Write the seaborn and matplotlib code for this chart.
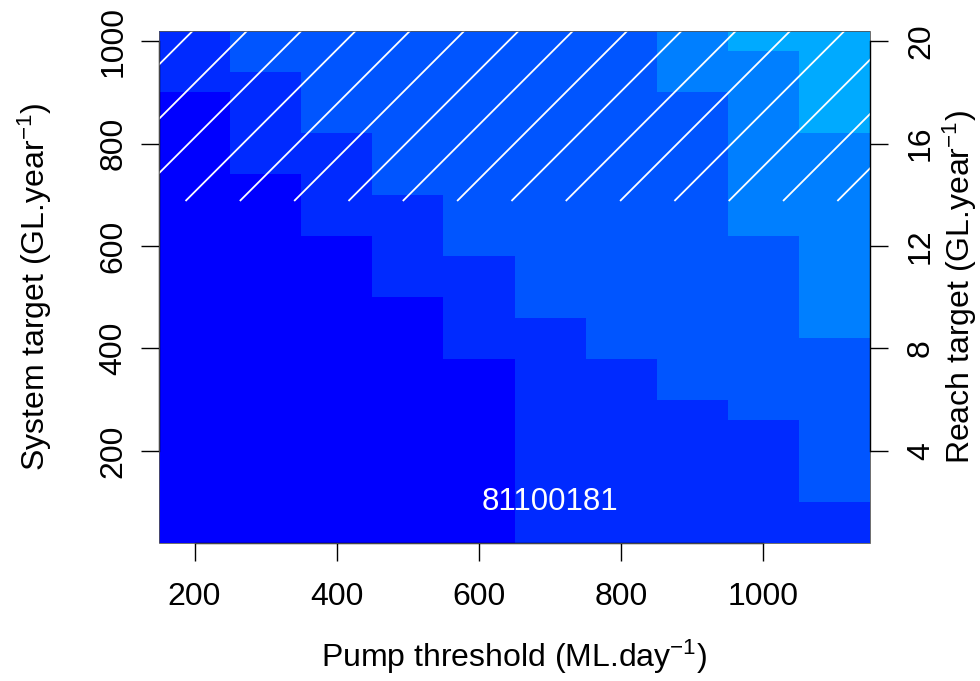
import numpy as np
import pandas as pd
import matplotlib
matplotlib.use("Agg")
import matplotlib.pyplot as plt
from matplotlib.colors import ListedColormap
from matplotlib.patches import Rectangle
import seaborn as sns

# Grid of scenarios
pump_threshold = [200, 300, 400, 500, 600, 700, 800, 900, 1000, 1100]          # ML/day
system_target = [40, 80, 120, 160, 200, 240, 280, 320, 360, 400, 440, 480, 520,
                 560, 600, 640, 680, 720, 760, 800, 840, 880, 920, 960, 1000]   # GL/year

# System target above which each pump-threshold column moves into the next band
# (None: the band is never reached in that column)
band1_from = [900, 740, 620, 500, 380, 20, 20, 20, 20, 20]
band2_from = [None, 940, 820, 700, 580, 460, 380, 300, 260, 100]
band3_from = [None, None, None, None, None, None, None, 900, 620, 420]
band4_from = [None, None, None, None, None, None, None, None, 980, 820]
band_colors = ["#0000FF", "#002AFF", "#0055FF", "#007FFF", "#00AAFF"]

x_ticks = [200, 400, 600, 800, 1000]
y_ticks = [200, 400, 600, 800, 1000]
reach_ticks = [4, 8, 12, 16, 20]

hatch_from = 688            # system targets above this are hatched
site_label = "81100181"
site_label_at = (700, 100)

# ---- build the band matrix (rows: system target, cols: pump threshold)
edges = [band1_from, band2_from, band3_from, band4_from]
band = np.zeros((len(system_target), len(pump_threshold)), dtype=int)
for i, st in enumerate(system_target):
    for j in range(len(pump_threshold)):
        band[i, j] = sum(1 for e in edges if e[j] is not None and st > e[j])
df = pd.DataFrame(band, index=system_target, columns=pump_threshold)

dx = pump_threshold[1] - pump_threshold[0]
dy = system_target[1] - system_target[0]
x_lo = pump_threshold[0] - dx / 2
y_lo = system_target[0] - dy / 2


def xpos(v):
    return (v - x_lo) / dx


def ypos(v):
    return (v - y_lo) / dy


# ---- style
sns.set_theme(style="white")
plt.rcParams["font.family"] = ["Liberation Sans", "DejaVu Sans"]
plt.rcParams["mathtext.fontset"] = "custom"
plt.rcParams["mathtext.rm"] = "Liberation Sans"
plt.rcParams["mathtext.it"] = "Liberation Sans:italic"
for key in ["text.color", "axes.labelcolor", "xtick.color", "ytick.color"]:
    plt.rcParams[key] = "black"
FS = 23

fig = plt.figure(figsize=(9.8, 6.81), dpi=100)
W, H = 980, 681
L, R, T, B = 159, 870, 31, 543
ax = fig.add_axes([L / W, (H - B) / H, (R - L) / W, (B - T) / H])

sns.heatmap(df, ax=ax, cmap=ListedColormap(band_colors), vmin=-0.5, vmax=4.5,
            cbar=False, xticklabels=False, yticklabels=False)
ax.invert_yaxis()
ax.set_xlim(0, len(pump_threshold))
ax.set_ylim(0, len(system_target))

# thin outline of the image
ax.add_patch(Rectangle((0, 0), 1, 1, transform=ax.transAxes, fill=False,
                       edgecolor="#555555", lw=0.6, zorder=5, clip_on=False))

# hatching over the upper system targets (45 degree lines on screen)
p0 = ax.transData.transform((0, 0))
p1 = ax.transData.transform((1, 1))
sx, sy = p1[0] - p0[0], p1[1] - p0[1]
hatch_anchor = 187.3      # pump threshold where one hatch line meets the lower edge
hatch_step = 76.4         # spacing between hatch lines, in pump-threshold units
yb = ypos(hatch_from)
yt = len(system_target) + 1
for k in range(-8, 16):
    xb = xpos(hatch_anchor + k * hatch_step)
    xt = xb + (yt - yb) * sy / sx
    ax.plot([xb, xt], [yb, yt], color="white", lw=1.3, solid_capstyle="butt", zorder=3)

ax.text(xpos(site_label_at[0]), ypos(site_label_at[1]), site_label, color="white",
        ha="center", va="center", fontsize=FS - 0.5, zorder=4)

# ---- axes in R style
for s in ["top", "right", "left", "bottom"]:
    ax.spines[s].set_visible(False)
ax.spines["left"].set_visible(True)
ax.spines["bottom"].set_visible(True)
ax.spines["left"].set_bounds(ypos(y_ticks[0]), ypos(y_ticks[-1]))
ax.spines["bottom"].set_bounds(xpos(x_ticks[0]), xpos(x_ticks[-1]))
for s in ["left", "bottom"]:
    ax.spines[s].set_color("black")
    ax.spines[s].set_linewidth(1.0)

ax.set_xticks([xpos(v) for v in x_ticks])
ax.set_xticklabels([str(v) for v in x_ticks], fontsize=FS)
ax.set_yticks([ypos(v) for v in y_ticks])
ax.set_yticklabels([str(v) for v in y_ticks], fontsize=FS, rotation=90, va="center")
ax.tick_params(axis="x", direction="out", length=13, width=1.0, color="black",
               pad=15, bottom=True, labelbottom=True)
ax.tick_params(axis="y", direction="out", length=13, width=1.0, color="black",
               pad=9, left=True, labelleft=True)

ax.set_xlabel(r"Pump threshold (ML.day$^{-1}$)", fontsize=FS, va="center")
ax.xaxis.set_label_coords(0.5, (B - 657) / (B - T))
ax.set_ylabel(r"System target (GL.year$^{-1}$)", fontsize=FS, va="center")
ax.yaxis.set_label_coords((35 - L) / (R - L), 0.5)

# right-hand axis: the same targets expressed per reach
ax2 = ax.twinx()
ax2.set_ylim(ax.get_ylim())
for s in ["top", "left", "bottom"]:
    ax2.spines[s].set_visible(False)
ax2.spines["right"].set_visible(True)
ax2.spines["right"].set_color("black")
ax2.spines["right"].set_linewidth(1.0)
ax2.spines["right"].set_bounds(ypos(y_ticks[0]), ypos(y_ticks[-1]))
ax2.set_yticks([ypos(v) for v in y_ticks])
ax2.set_yticklabels([str(v) for v in reach_ticks], fontsize=FS, rotation=90, va="center")
ax2.tick_params(axis="y", direction="out", length=13, width=1.0, color="black",
                pad=13, right=True, labelright=True)
ax2.set_ylabel(r"Reach target (GL.year$^{-1}$)", fontsize=FS, rotation=90, va="center")
ax2.yaxis.set_label_coords((960 - L) / (R - L), 0.5)

fig.savefig("out.png", dpi=100)
